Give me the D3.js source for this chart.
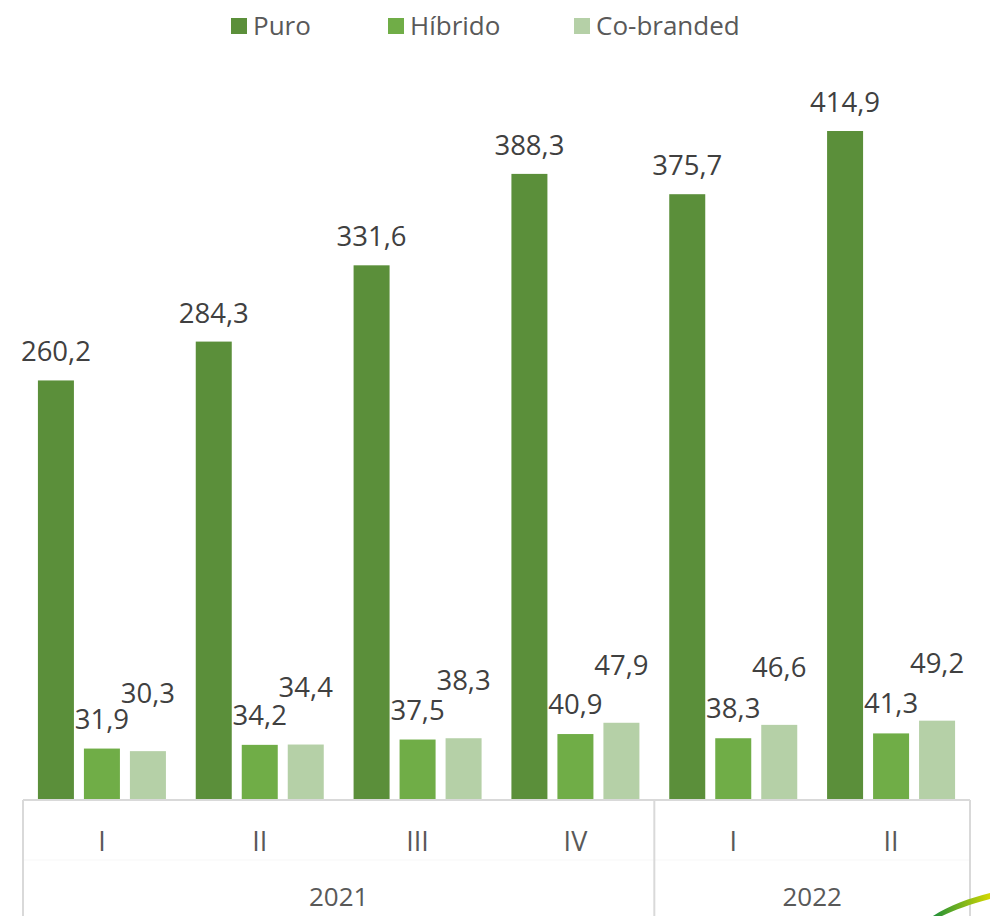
<!DOCTYPE html>
<html>
<head>
<meta charset="utf-8">
<script src="https://cdn.jsdelivr.net/npm/d3@7"></script>
<style>
  html, body { margin: 0; padding: 0; background: #fff; }
  svg { display: block; }
  text { font-family: "Open Sans", "Noto Sans", sans-serif; }
</style>
</head>
<body>
<svg id="chart" width="990" height="916"></svg>
<script>
const quarters = ["I", "II", "III", "IV", "I", "II"];
const years = ["2021", "2021", "2021", "2021", "2022", "2022"];
const yearGroups = ["2021", "2022"];
const seriesNames = ["Puro", "Híbrido", "Co-branded"];
const puro = [260.2, 284.3, 331.6, 388.3, 375.7, 414.9];
const hibrido = [31.9, 34.2, 37.5, 40.9, 38.3, 41.3];
const cobranded = [30.3, 34.4, 38.3, 47.9, 46.6, 49.2];
const colors = ["#5b8f3a", "#70ad47", "#b5d0a7"];

const seriesValues = [puro, hibrido, cobranded];
const fmt = v => v.toFixed(1).replace(".", ",");

const svg = d3.select("#chart");
const left = 23, right = 970, baseY = 800;

const x0 = d3.scaleBand().domain(d3.range(quarters.length)).range([left, right]).padding(0);
const groupW = 128;
const x1 = d3.scaleBand().domain(seriesNames).range([0, groupW]).paddingInner(10 / 46).paddingOuter(0);
const y = d3.scaleLinear().domain([0, 414.9]).range([baseY, 131]);

// bars
const labelDy = [19, 20, 48];
seriesNames.forEach((s, si) => {
  const g = svg.append("g");
  seriesValues[si].forEach((v, i) => {
    const bx = x0(i) + (x0.bandwidth() - groupW) / 2 + x1(s);
    g.append("rect")
      .attr("x", bx).attr("y", y(v))
      .attr("width", x1.bandwidth()).attr("height", baseY - y(v))
      .attr("fill", colors[si]);
    g.append("text")
      .attr("x", bx + x1.bandwidth() / 2)
      .attr("y", y(v) - labelDy[si])
      .attr("text-anchor", "middle")
      .attr("font-size", 27.5)
      .attr("fill", "#404040")
      .text(fmt(v));
  });
});

// axis lines
const axisColor = "#d9d9d9";
svg.append("line").attr("x1", left).attr("x2", right).attr("y1", baseY).attr("y2", baseY)
  .attr("stroke", axisColor).attr("stroke-width", 2);
svg.append("line").attr("x1", left).attr("x2", right).attr("y1", 860).attr("y2", 860)
  .attr("stroke", "#f7f7f7").attr("stroke-width", 1);

// year boundaries
const boundaries = [0];
years.forEach((yv, i) => { if (i > 0 && yv !== years[i - 1]) boundaries.push(i); });
boundaries.push(years.length);
boundaries.forEach(b => {
  const bx = b === years.length ? right : x0(b);
  svg.append("line").attr("x1", bx).attr("x2", bx).attr("y1", baseY).attr("y2", 916)
    .attr("stroke", axisColor).attr("stroke-width", 2);
});

// quarter labels
quarters.forEach((q, i) => {
  svg.append("text")
    .attr("x", x0(i) + x0.bandwidth() / 2).attr("y", 851)
    .attr("text-anchor", "middle").attr("font-size", 27).attr("fill", "#595959")
    .text(q);
});

// year labels
yearGroups.forEach((yr, k) => {
  const a = x0(boundaries[k]);
  const b = boundaries[k + 1] === years.length ? right : x0(boundaries[k + 1]);
  svg.append("text")
    .attr("x", (a + b) / 2).attr("y", 906)
    .attr("text-anchor", "middle").attr("font-size", 26).attr("fill", "#595959")
    .text(yr);
});

// legend
const legendX = [231, 388, 574];
seriesNames.forEach((s, si) => {
  svg.append("rect").attr("x", legendX[si]).attr("y", 18).attr("width", 16).attr("height", 16)
    .attr("fill", colors[si]);
  svg.append("text").attr("x", legendX[si] + 22).attr("y", 35)
    .attr("font-size", 26).attr("fill", "#595959").text(s);
});

// decorative swoosh bottom-right
const defs = svg.append("defs");
const grad = defs.append("linearGradient").attr("id", "sw").attr("x1", "0").attr("x2", "1").attr("y1", "0").attr("y2", "0");
grad.append("stop").attr("offset", "0%").attr("stop-color", "#1f8f3a");
grad.append("stop").attr("offset", "100%").attr("stop-color", "#d4d800");
svg.append("path")
  .attr("d", "M933,916 C950,905 970,898 990,893 L990,899 C970,904 955,910 942,916 Z")
  .attr("fill", "url(#sw)");
</script>
</body>
</html>
